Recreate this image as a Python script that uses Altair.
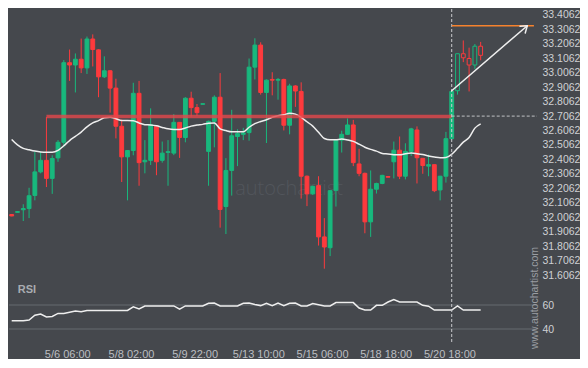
import altair as alt
import pandas as pd
import numpy as np

# ---------------- data ----------------
opens = [32.025, 32.040, 32.058, 32.066, 32.157, 32.320, 32.400, 32.275, 32.417, 32.525,
         33.076, 33.060, 33.100, 33.040, 33.240, 33.165, 32.978, 33.020, 32.900, 32.636,
         32.424, 32.468, 32.864, 32.390, 32.400, 32.636, 32.400, 32.455, 32.450, 32.663,
         32.558, 32.830, 32.765, 32.788, 32.462, 32.670, 32.837, 32.080, 32.330, 32.565,
         32.580, 32.592, 33.045, 33.198, 32.870, 32.960, 32.955, 32.960, 32.643, 32.915,
         32.877, 32.290, 32.168, 32.225, 31.870, 31.795, 32.192, 32.540, 32.580, 32.645,
         32.375, 32.310, 31.974, 32.200, 32.240, 32.288, 32.390, 32.470, 32.290, 32.462,
         32.610, 32.414, 32.360, 32.370, 32.195, 32.290, 32.550, 32.882, 33.138, 33.105,
         33.060, 33.190]
highs = [32.027, 32.048, 32.096, 32.210, 32.458, 32.460, 32.700, 32.435, 32.540, 33.094,
         33.167, 33.140, 33.243, 33.257, 33.272, 33.170, 33.120, 33.025, 32.965, 32.683,
         32.470, 32.937, 32.950, 32.540, 32.760, 32.640, 32.530, 32.540, 32.720, 32.665,
         32.837, 32.875, 32.790, 32.793, 32.675, 32.850, 33.004, 32.415, 32.750, 32.615,
         32.625, 33.105, 33.245, 33.217, 32.960, 33.010, 32.970, 32.965, 32.930, 32.920,
         32.940, 32.295, 32.225, 32.290, 32.000, 32.195, 32.545, 32.605, 32.690, 32.680,
         32.480, 32.315, 32.330, 32.245, 32.300, 32.290, 32.530, 32.565, 32.518, 32.625,
         32.635, 32.416, 32.440, 32.372, 32.293, 32.597, 32.880, 33.140, 33.230, 33.180,
         33.205, 33.220]
lows = [32.013, 32.040, 31.980, 32.000, 32.123, 32.310, 32.215, 32.168, 32.390, 32.490,
        32.950, 32.870, 33.004, 32.998, 33.050, 32.837, 32.970, 32.730, 32.552, 32.250,
        32.123, 32.435, 32.224, 32.310, 32.368, 32.297, 32.384, 32.224, 32.436, 32.417,
        32.525, 32.703, 32.708, 32.787, 32.224, 32.490, 31.934, 31.890, 32.156, 32.360,
        32.540, 32.536, 32.960, 32.855, 32.520, 32.850, 32.820, 32.607, 32.580, 32.770,
        32.135, 32.083, 32.160, 31.810, 31.650, 31.737, 32.080, 32.454, 32.575, 32.360,
        32.290, 31.895, 31.870, 32.170, 32.235, 32.282, 32.275, 32.270, 32.268, 32.430,
        32.240, 32.307, 32.290, 32.180, 32.123, 32.246, 32.540, 32.855, 33.080, 32.877,
        33.033, 33.093]
closes = [32.015, 32.045, 32.066, 32.155, 32.320, 32.400, 32.275, 32.413, 32.525, 33.076,
          33.060, 33.100, 33.040, 33.240, 33.167, 32.978, 33.020, 32.900, 32.636, 32.424,
          32.468, 32.864, 32.384, 32.400, 32.648, 32.390, 32.450, 32.460, 32.663, 32.558,
          32.830, 32.765, 32.730, 32.792, 32.670, 32.837, 32.060, 32.330, 32.570, 32.585,
          32.590, 33.045, 33.198, 32.870, 32.955, 32.955, 32.960, 32.643, 32.915, 32.880,
          32.290, 32.168, 32.220, 31.870, 31.800, 32.190, 32.540, 32.580, 32.645, 32.384,
          32.310, 31.974, 32.200, 32.240, 32.296, 32.283, 32.470, 32.290, 32.462, 32.618,
          32.418, 32.364, 32.370, 32.190, 32.290, 32.550, 32.877, 33.138, 33.110, 33.060,
          33.190, 33.127]
ma = [32.545, 32.507, 32.483, 32.473, 32.464, 32.458, 32.456, 32.456, 32.469, 32.501,
      32.537, 32.566, 32.595, 32.632, 32.659, 32.675, 32.695, 32.699, 32.688, 32.675,
      32.676, 32.674, 32.659, 32.647, 32.645, 32.639, 32.628, 32.618, 32.614, 32.614,
      32.624, 32.637, 32.644, 32.649, 32.657, 32.659, 32.618, 32.606, 32.598, 32.598,
      32.598, 32.629, 32.654, 32.669, 32.681, 32.698, 32.709, 32.715, 32.726, 32.720,
      32.698, 32.667, 32.637, 32.594, 32.551, 32.542, 32.543, 32.547, 32.541, 32.531,
      32.512, 32.491, 32.476, 32.464, 32.448, 32.444, 32.439, 32.438, 32.445, 32.450,
      32.446, 32.440, 32.430, 32.423, 32.418, 32.420, 32.442, 32.483, 32.526, 32.558,
      32.623, 32.653]
rsi = [46.9, 46.9, 46.9, 47.5, 51.5, 52.5, 50.0, 50.5, 53.0, 53.0,
       54.0, 55.0, 54.3, 55.5, 55.5, 55.5, 55.5, 55.5, 55.5, 55.5,
       55.5, 58.5, 56.8, 59.2, 59.2, 59.2, 59.2, 59.2, 59.2, 56.5,
       59.2, 59.2, 59.2, 59.2, 61.5, 61.7, 59.2, 59.2, 59.2, 59.2,
       61.5, 61.7, 60.5, 59.5, 61.5, 59.5, 61.7, 59.5, 61.5, 61.7,
       59.2, 59.2, 61.2, 60.2, 59.2, 59.2, 62.0, 62.0, 62.0, 62.0,
       57.5, 55.8, 55.8, 59.7, 59.7, 62.5, 64.5, 62.5, 62.5, 62.5,
       62.5, 59.7, 59.0, 55.8, 55.8, 55.8, 55.8, 59.2, 55.8, 55.8,
       55.8, 55.8]

hollow_from = 77          # last candles drawn as outlines
pattern_end = 76          # candle where the pattern ends (dashed vertical)
resistance = 32.703       # red line level
resistance_start = 6
target = 33.332           # orange target level
target_end = 90.2
arrow_start = [76, 32.882]
arrow_tip = [89.05, 33.332]

x_tick_vals = [9.6, 20.6, 31.6, 42.6, 53.6, 64.6, 75.6]
x_tick_labels = ["5/6 06:00", "5/8 02:00", "5/9 22:00", "5/13 10:00",
                 "5/15 06:00", "5/18 18:00", "5/20 18:00"]
price_ticks = [31.6062, 31.7062, 31.8062, 31.9062, 32.0062, 32.1062, 32.2062,
               32.3062, 32.4062, 32.5062, 32.6062, 32.7062, 32.8062, 32.9062,
               33.0062, 33.1062, 33.2062, 33.3062, 33.4062]
rsi_ticks = [40, 60]

# ---------------- styling ----------------
BG = "#45484d"
GREEN = "#18b87d"
RED = "#fd3a3d"
W = 528
H1 = 275
H2 = 60
XDOM = [-0.466, 90.73]
YDOM = [31.5439, 33.4477]
RDOM = [27.5, 77.5]

n = len(opens)
df = pd.DataFrame({"i": np.arange(n), "o": opens, "h": highs, "l": lows, "c": closes,
                   "ma": ma, "rsi": rsi})
df["dir"] = np.where(df.c >= df.o, "up", "down")
df["top"] = df[["o", "c"]].max(axis=1)
df["bot"] = df[["o", "c"]].min(axis=1)
df["x1"] = df.i - 0.33
df["x2"] = df.i + 0.33
df["fillcat"] = np.where(df.i >= hollow_from, "hollow", df.dir)

xs = alt.Scale(domain=XDOM, nice=False, zero=False)
ys = alt.Scale(domain=YDOM, nice=False, zero=False)
rs = alt.Scale(domain=RDOM, nice=False, zero=False)
dir_scale = alt.Scale(domain=["up", "down"], range=[GREEN, RED])
fill_scale = alt.Scale(domain=["up", "down", "hollow"], range=[GREEN, RED, BG])

price_axis = alt.Axis(orient="right", values=price_ticks, format=".4f", grid=False,
                      domain=False, ticks=False, labelPadding=5, labelColor="#cfd1d4",
                      labelFontSize=10.5, labelFont="Liberation Sans", title=None,
                      labelOverlap=False)
rsi_axis = alt.Axis(orient="right", values=rsi_ticks, grid=False, domain=False, ticks=False,
                    labelPadding=5, labelColor="#cfd1d4", labelFontSize=10.5,
                    labelFont="Liberation Sans", title=None, labelOverlap=False)
label_expr = ("[" + ",".join("'%s'" % s for s in x_tick_labels) + "][indexof([" +
              ",".join(str(v) for v in x_tick_vals) + "], datum.value)]")
x_axis = alt.Axis(values=x_tick_vals, labelExpr=label_expr, grid=False, domain=False,
                  ticks=False, labelPadding=4, labelColor="#bcbec2", labelFontSize=11,
                  labelFont="Liberation Sans", title=None, labelOverlap=False,
                  labelFlush=False)


def PX(f):
    return alt.X(f, scale=xs, axis=None)


def PY(f):
    return alt.Y(f, scale=ys, axis=price_axis)


def RX(f):
    return alt.X(f, scale=xs, axis=x_axis)


def RY(f):
    return alt.Y(f, scale=rs, axis=rsi_axis)


base = alt.Chart(df)

wick_up = base.mark_rule(strokeWidth=1).encode(
    x=PX("i:Q"), y=PY("top:Q"), y2="h:Q",
    color=alt.Color("dir:N", scale=dir_scale, legend=None))
wick_dn = base.mark_rule(strokeWidth=1).encode(
    x=PX("i:Q"), y=PY("l:Q"), y2="bot:Q",
    color=alt.Color("dir:N", scale=dir_scale, legend=None))
bodies = base.mark_rect(strokeWidth=1).encode(
    x=PX("x1:Q"), x2="x2:Q", y=PY("o:Q"), y2="c:Q",
    fill=alt.Fill("fillcat:N", scale=fill_scale, legend=None),
    stroke=alt.Stroke("dir:N", scale=dir_scale, legend=None))
ma_line = base.mark_line(color="#eeeeee", strokeWidth=1.5, interpolate="monotone").encode(
    x=PX("i:Q"), y=PY("ma:Q"))

res_df = pd.DataFrame({"x": [resistance_start], "x2": [pattern_end], "y": [resistance]})
res_line = alt.Chart(res_df).mark_rule(color="#e2474b", strokeWidth=3.5, opacity=0.8).encode(
    x=PX("x:Q"), x2="x2:Q", y=PY("y:Q"))

dash_df = pd.DataFrame({"x": [pattern_end], "x2": [XDOM[1]], "y": [32.7062]})
h_dash = alt.Chart(dash_df).mark_rule(color="#bfc1c4", strokeWidth=1, strokeDash=[3, 2]).encode(
    x=PX("x:Q"), x2="x2:Q", y=PY("y:Q"))

v_df = pd.DataFrame({"x": [pattern_end]})
v_dash_top = alt.Chart(v_df).mark_rule(color="#c8cacd", strokeWidth=1, strokeDash=[3, 2]).encode(
    x=PX("x:Q"))

tgt_df = pd.DataFrame({"x": [pattern_end], "x2": [target_end], "y": [target]})
tgt_line = alt.Chart(tgt_df).mark_rule(color="#f5822e", strokeWidth=1.5).encode(
    x=PX("x:Q"), x2="x2:Q", y=PY("y:Q"))

tip_x, tip_y = arrow_tip
arrow_df = pd.DataFrame({
    "x": [arrow_start[0], tip_x, tip_x],
    "y": [arrow_start[1], tip_y, tip_y],
    "x2": [tip_x, tip_x - 1.25, tip_x - 0.35],
    "y2": [tip_y, tip_y - 0.004, tip_y - 0.05],
})
arrow = alt.Chart(arrow_df).mark_rule(color="#eeeeee", strokeWidth=1.5, strokeCap="round").encode(
    x=PX("x:Q"), x2="x2:Q", y=PY("y:Q"), y2="y2:Q")

wm_df = pd.DataFrame({"x": [47.9], "y": [32.20], "t": ["autochartist"]})
wm = alt.Chart(wm_df).mark_text(font="Open Sans", fontWeight=300, fontSize=20,
                                color="#52565c", align="center", baseline="middle").encode(
    x=PX("x:Q"), y=PY("y:Q"), text="t:N")

top = alt.layer(wm, wick_up, wick_dn, bodies, ma_line, res_line, h_dash, v_dash_top,
                tgt_line, arrow).properties(width=W, height=H1)

# ---------------- RSI panel ----------------
grid_df = pd.DataFrame({"y": rsi_ticks})
grid = alt.Chart(grid_df).mark_rule(color="#676b71", strokeWidth=1).encode(y=RY("y:Q"))
rsi_line = base.mark_line(color="#eeeeee", strokeWidth=1.5).encode(
    x=RX("i:Q"), y=RY("rsi:Q"))
v_dash_bot = alt.Chart(v_df).mark_rule(color="#c8cacd", strokeWidth=1, strokeDash=[3, 2]).encode(
    x=RX("x:Q"))
rsi_title = alt.Chart(pd.DataFrame({"t": ["RSI"]})).mark_text(
    font="Liberation Sans", fontWeight="bold", fontSize=11, color="#a9acb1",
    align="center", baseline="middle").encode(
    x=alt.value(18), y=alt.value(6), text="t:N")
site = alt.Chart(pd.DataFrame({"t": ["www.autochartist.com"]})).mark_text(
    font="Liberation Sans", fontSize=10.5, color="#9a9da2", angle=270,
    align="center", baseline="middle").encode(
    x=alt.value(W - 2), y=alt.value(14), text="t:N")

bottom = alt.layer(grid, rsi_line, v_dash_bot, rsi_title, site).properties(width=W, height=H2)

chart = alt.vconcat(top, bottom, spacing=0, bounds="flush").properties(
    background=BG, padding={"left": 0, "top": 0, "right": 0, "bottom": 0}
).configure_view(stroke=None).configure_concat(spacing=0)

chart.save("out.html", embed_options={"renderer": "svg", "actions": False})
